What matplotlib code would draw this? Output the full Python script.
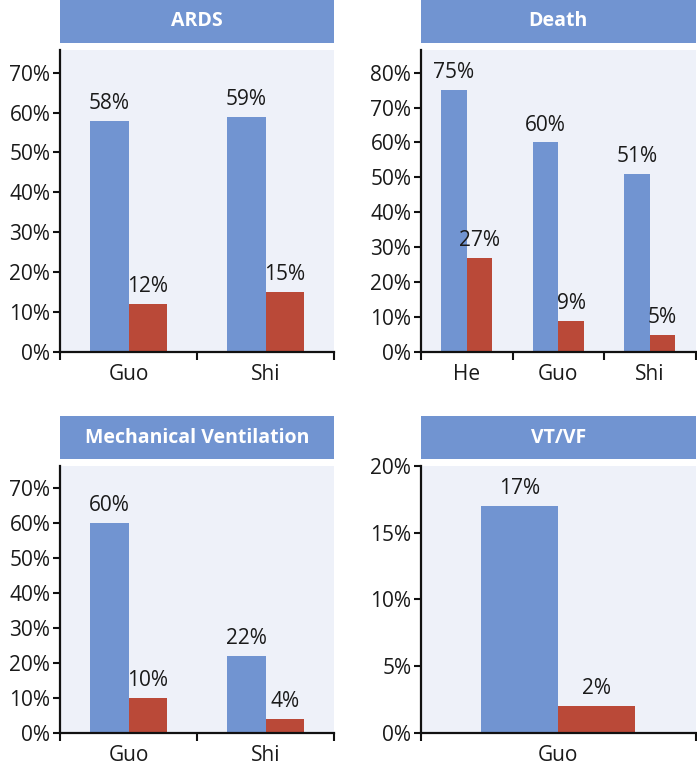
import matplotlib
matplotlib.use("Agg")
import matplotlib.pyplot as plt
from matplotlib.patches import Rectangle
import numpy as np

plt.rcParams['font.family'] = ['Open Sans', 'DejaVu Sans']

# Data
ards_cats = ["Guo", "Shi"]
ards_blue = [58, 59]
ards_red = [12, 15]

death_cats = ["He", "Guo", "Shi"]
death_blue = [75, 60, 51]
death_red = [27, 9, 5]

mv_cats = ["Guo", "Shi"]
mv_blue = [60, 22]
mv_red = [10, 4]

vt_cats = ["Guo"]
vt_blue = [17]
vt_red = [2]

BLUE = "#7194D1"
RED = "#BA4938"
BG = "#EEF1F9"
HEADER = "#7194D1"
TXT = "#1a1a1a"

fig = plt.figure(figsize=(6.97, 7.70), dpi=100)

panels = [
    # title, cats, blue, red, ylim, yticks, axes rect, header rect
    ("ARDS", ards_cats, ards_blue, ards_red, 75.7, np.arange(0, 71, 10),
     [0.0861, 0.5429, 0.3931, 0.3922], [0.0861, 0.9442, 0.3931, 0.0558]),
    ("Death", death_cats, death_blue, death_red, 86.5, np.arange(0, 81, 10),
     [0.6040, 0.5429, 0.3940, 0.3922], [0.6040, 0.9442, 0.3940, 0.0558]),
    ("Mechanical Ventilation", mv_cats, mv_blue, mv_red, 76.2, np.arange(0, 71, 10),
     [0.0861, 0.0484, 0.3931, 0.3464], [0.0861, 0.4039, 0.3931, 0.0558]),
    ("VT/VF", vt_cats, vt_blue, vt_red, 20, np.arange(0, 21, 5),
     [0.6040, 0.0484, 0.3940, 0.3464], [0.6040, 0.4039, 0.3940, 0.0558]),
]

for title, cats, blue, red, ymax, yt, rect, hrect in panels:
    ax = fig.add_axes(rect)
    ax.set_facecolor(BG)
    n = len(cats)
    x = np.arange(n)
    w = 0.28
    b1 = ax.bar(x - w / 2, blue, width=w, color=BLUE, zorder=2)
    b2 = ax.bar(x + w / 2, red, width=w, color=RED, zorder=2)
    for bars, vals in ((b1, blue), (b2, red)):
        for bar, v in zip(bars, vals):
            ax.annotate(f"{v}%", (bar.get_x() + bar.get_width() / 2, v),
                        xytext=(0, 5), textcoords="offset points",
                        ha="center", va="bottom", fontsize=15, color=TXT)
    ax.set_xlim(-0.5, n - 0.5)
    ax.set_ylim(0, ymax)
    ax.set_yticks(yt)
    ax.set_yticklabels([f"{int(v)}%" for v in yt])
    ax.set_xticks(np.arange(-0.5, n, 1.0))
    ax.set_xticklabels([""] * (n + 1))
    ax.set_xticks(x, minor=True)
    ax.set_xticklabels(cats, minor=True)
    ax.tick_params(axis="x", which="minor", length=0, pad=9, labelsize=15, labelcolor=TXT)
    ax.tick_params(axis="x", which="major", length=6, width=1.5, direction="out", color="#111")
    ax.tick_params(axis="y", length=5, width=1.5, direction="out", labelsize=15,
                   labelcolor=TXT, color="#111", pad=2)
    for s in ("top", "right"):
        ax.spines[s].set_visible(False)
    for s in ("left", "bottom"):
        ax.spines[s].set_linewidth(1.6)
        ax.spines[s].set_color("#111")

    fig.patches.append(Rectangle((hrect[0], hrect[1]), hrect[2], hrect[3],
                                 transform=fig.transFigure, facecolor=HEADER,
                                 edgecolor="none", zorder=0))
    fig.text(hrect[0] + hrect[2] / 2, hrect[1] + hrect[3] / 2, title,
             ha="center", va="center", color="white", fontsize=14,
             fontweight="bold")

fig.savefig("out.png", dpi=100, facecolor="white")
